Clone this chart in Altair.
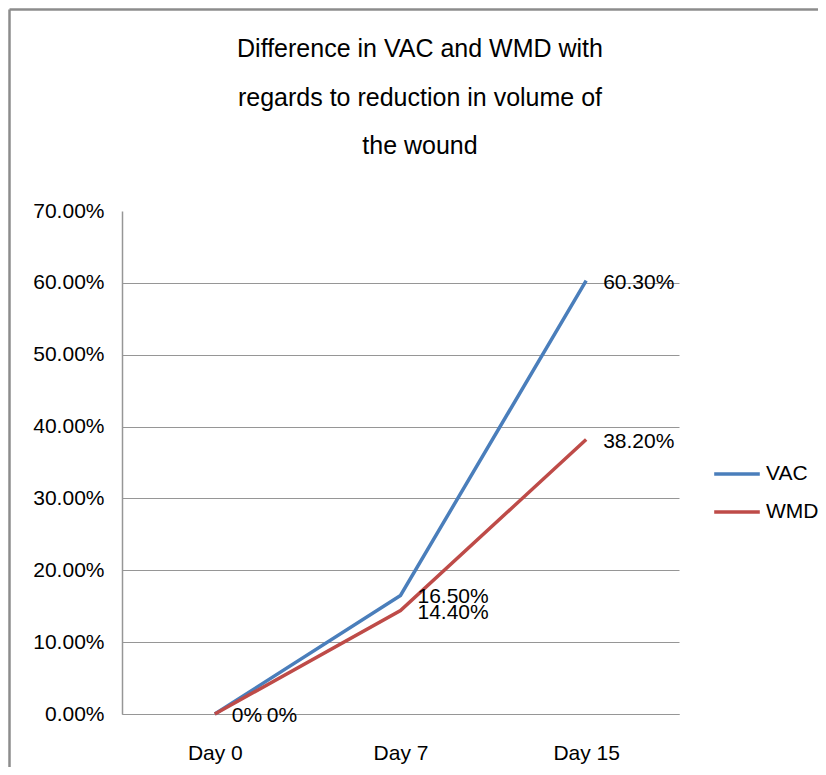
import altair as alt
import pandas as pd

# ---- data ----
days = ["Day 0", "Day 7", "Day 15"]
series = ["VAC", "WMD"]
vac_values = [0.0, 0.165, 0.603]
wmd_values = [0.0, 0.144, 0.382]
vac_labels = ["0%", "16.50%", "60.30%"]
wmd_labels = ["0%", "14.40%", "38.20%"]
y_ticks = [0.0, 0.1, 0.2, 0.3, 0.4, 0.5, 0.6, 0.7]
title_lines = [
    "Difference in VAC and WMD with",
    "regards to reduction in volume of",
    "the wound",
]
colors = ["#4A7EBB", "#BE4B48"]

FONT = "Liberation Sans"
GRAY = "#969696"

rows = []
for d, v, l in zip(days, vac_values, vac_labels):
    rows.append({"day": d, "series": "VAC", "value": v, "label": l})
for d, v, l in zip(days, wmd_values, wmd_labels):
    rows.append({"day": d, "series": "WMD", "value": v, "label": l})
df = pd.DataFrame(rows)

x_enc = alt.X(
    "day:N",
    sort=days,
    scale=alt.Scale(type="point", padding=0.5),
    axis=alt.Axis(
        title=None,
        labelAngle=0,
        ticks=False,
        grid=False,
        domainColor=GRAY,
        domainWidth=1,
        labelPadding=28,
        labelFontSize=21,
        labelFont=FONT,
        labelColor="black",
    ),
)
y_enc = alt.Y(
    "value:Q",
    scale=alt.Scale(domain=[0, 0.7], nice=False, zero=True),
    axis=alt.Axis(
        title=None,
        values=y_ticks,
        format=".2%",
        ticks=False,
        grid=True,
        gridColor=alt.condition("datum.value >= 0.69", alt.value("transparent"), alt.value(GRAY)),
        gridWidth=1,
        domainColor=GRAY,
        domainWidth=1.5,
        labelPadding=18,
        labelFontSize=21,
        labelFont=FONT,
        labelColor="black",
    ),
)

base = alt.Chart(df)

lines = base.mark_line(strokeWidth=3.5).encode(
    x=x_enc,
    y=y_enc,
    color=alt.Color(
        "series:N",
        scale=alt.Scale(domain=series, range=colors),
        legend=alt.Legend(
            title=None,
            orient="none",
            legendX=594,
            legendY=242,
            symbolType="M-1.2,0H1.2",
            symbolSize=1444,
            symbolStrokeWidth=3.5,
            labelFontSize=21,
            labelFont=FONT,
            labelColor="black",
            labelOffset=8,
            rowPadding=7,
            padding=0,
        ),
    ),
)

labels_main = base.mark_text(
    align="left", baseline="middle", dx=17, dy=2, fontSize=21, font=FONT, color="black"
).encode(x=x_enc, y=y_enc, text="label:N").transform_filter(
    "!(datum.series == 'WMD' && datum.day == 'Day 0')"
)

labels_day0 = base.mark_text(
    align="left", baseline="middle", dx=52, dy=2, fontSize=21, font=FONT, color="black"
).encode(x=x_enc, y=y_enc, text="label:N").transform_filter(
    "datum.series == 'WMD' && datum.day == 'Day 0'"
)

frame_df = pd.DataFrame({"k": [0]})
border_left = alt.Chart(frame_df).mark_rule(color="#8c8c8c", strokeWidth=2.5).encode(
    x=alt.value(-112.5), y=alt.value(-201.5), y2=alt.value(560)
)
border_top = alt.Chart(frame_df).mark_rule(color="#8c8c8c", strokeWidth=2.5).encode(
    x=alt.value(-112.5), x2=alt.value(720), y=alt.value(-201.5)
)

title_df = pd.DataFrame({"t": ["\n".join(title_lines)]})
title_text = alt.Chart(title_df).mark_text(
    align="center",
    baseline="alphabetic",
    lineBreak="\n",
    lineHeight=48.5,
    fontSize=25,
    font=FONT,
    color="black",
).encode(x=alt.value(298), y=alt.value(-154), text="t:N")

chart = (
    alt.layer(border_left, border_top, title_text, lines, labels_main, labels_day0)
    .properties(
        width=557,
        height=503,
        autosize=alt.AutoSizeParams(type="none"),
        padding={"left": 114, "top": 203, "right": 139, "bottom": 53},
        background="white",
    )
    .configure_view(stroke="transparent")
)

chart.save("out.html", embed_options={"renderer": "svg", "actions": False})
